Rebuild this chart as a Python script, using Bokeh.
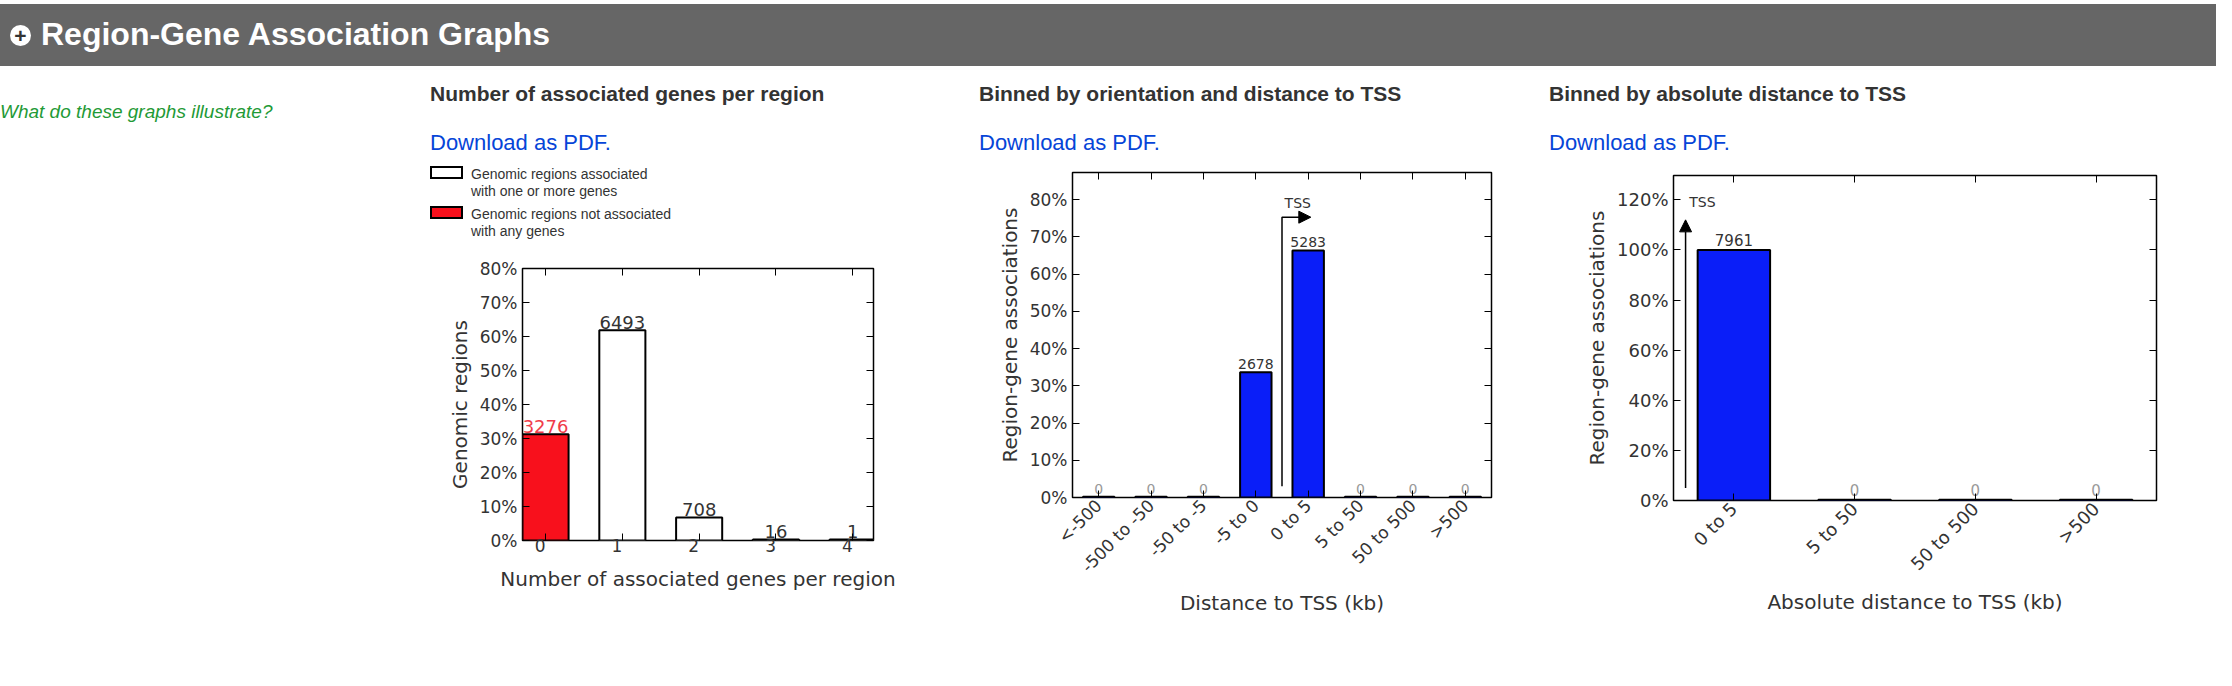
from bokeh.layouts import row, column
from bokeh.models import Div, LinearAxis, FixedTicker, NumeralTickFormatter, Range1d, Arrow, NormalHead
from bokeh.plotting import figure
from bokeh.core.properties import value
from bokeh.embed import file_html
from bokeh.resources import INLINE
import math

# chart 1: number of associated genes per region
genes_cats = ["0", "1", "2", "3", "4"]
genes_counts = [3276, 6493, 708, 16, 1]
# chart 2: binned by orientation and distance to TSS
orient_cats = ["<-500", "-500 to -50", "-50 to -5", "-5 to 0", "0 to 5", "5 to 50", "50 to 500", ">500"]
orient_counts = [0, 0, 0, 2678, 5283, 0, 0, 0]
# chart 3: binned by absolute distance to TSS
abs_cats = ["0 to 5", "5 to 50", "50 to 500", ">500"]
abs_counts = [7961, 0, 0, 0]

FONT = "DejaVu Sans"


def base_fig(w, h, bl, br, bt, bb, fw, fh, xr, yr, ymax_tick, ystep, cats, ylabel, xlabel, tick_size, rot):
    p = figure(width=w, height=h, frame_width=fw, frame_height=fh,
               x_range=Range1d(*xr), y_range=Range1d(*yr),
               output_backend="svg", toolbar_location=None,
               min_border_left=bl, min_border_right=br, min_border_top=bt, min_border_bottom=bb)
    p.xgrid.visible = False
    p.ygrid.visible = False
    p.outline_line_color = "black"
    p.outline_line_width = 1.5
    yt = [round(i * ystep, 4) for i in range(int(round(ymax_tick / ystep)) + 1)]
    xt = list(range(len(cats)))
    p.yaxis.ticker = FixedTicker(ticks=yt)
    p.yaxis.formatter = NumeralTickFormatter(format="0%")
    p.xaxis.ticker = FixedTicker(ticks=xt)
    p.xaxis.major_label_overrides = {i: c for i, c in enumerate(cats)}
    p.xaxis.major_label_orientation = rot
    for ax in (p.xaxis[0], p.yaxis[0]):
        ax.axis_line_color = None
        ax.major_tick_in = 7
        ax.major_tick_out = 0
        ax.minor_tick_line_color = None
        ax.major_label_text_font = FONT
        ax.major_label_text_font_size = tick_size
        ax.major_label_text_color = "#333333"
        ax.axis_label_text_font = FONT
        ax.axis_label_text_font_style = "normal"
        ax.axis_label_text_font_size = "20px"
        ax.axis_label_text_color = "#333333"
    p.yaxis.axis_label = ylabel
    p.xaxis.axis_label = xlabel
    right = LinearAxis(ticker=FixedTicker(ticks=yt), major_label_text_color=None,
                       axis_line_color=None, major_tick_in=7, major_tick_out=0,
                       minor_tick_line_color=None)
    p.add_layout(right, "right")
    top = LinearAxis(ticker=FixedTicker(ticks=xt), major_label_text_color=None,
                     axis_line_color=None, major_tick_in=7, major_tick_out=0,
                     minor_tick_line_color=None)
    p.add_layout(top, "above")
    return p


def head_div(title, w, h):
    return Div(width=w, height=h, margin=0, text=(
        "<div style='font-family:Liberation Sans;font-weight:bold;font-size:21px;line-height:24px;color:#333;margin-top:16px'>%s</div>"
        "<div style='font-family:Liberation Sans;font-size:22px;line-height:26px;color:#0645d8;margin-top:24px'>Download as PDF.</div>" % title))


# ---- chart 1
tot1 = sum(genes_counts)
frac1 = [c / tot1 for c in genes_counts]
p1 = base_fig(549, 500, 92, 106, 12, 116, 351, 272, (-0.3, 4.27), (0, 0.8), 0.8, 0.1,
              genes_cats, "Genomic regions", "Number of associated genes per region", "17px", 0)
xs1 = list(range(len(genes_cats)))
p1.vbar(x=xs1[1:], top=[max(f, 0.003) for f in frac1[1:]], width=0.6, fill_color="white", line_color="black", line_width=2)
p1.vbar(x=xs1[:1], top=frac1[:1], width=0.6, fill_color="#f8101c", line_color="black", line_width=2)
p1.text(x=xs1[1:], y=[max(f, 0.003) + 0.004 for f in frac1[1:]], text=[str(c) for c in genes_counts[1:]],
        text_font=value(FONT), text_font_size="18px", text_align="center", text_baseline="bottom", text_color="#333")
p1.text(x=xs1[:1], y=[frac1[0] + 0.004], text=[str(genes_counts[0])],
        text_font=value(FONT), text_font_size="18px", text_align="center", text_baseline="bottom", text_color="#f03c4a")
p1.xaxis[0].major_label_text_font_size = "18px"

legend_html = (
    "<div style='font-family:Liberation Sans;font-size:14px;color:#333;line-height:17px;margin-top:10px'>"
    "<div style='display:flex;align-items:flex-start'><span style='display:inline-block;width:33px;height:13px;border:2px solid black;background:white;margin-right:8px'></span>"
    "<span>Genomic regions associated<br>with one or more genes</span></div>"
    "<div style='display:flex;align-items:flex-start;margin-top:6px'><span style='display:inline-block;width:33px;height:13px;border:2px solid black;background:#f8101c;margin-right:8px'></span>"
    "<span>Genomic regions not associated<br>with any genes</span></div></div>")
col1 = column(head_div("Number of associated genes per region", 549, 90),
              Div(width=549, height=100, margin=0, text=legend_html), p1, spacing=0)

# ---- chart 2
tot2 = sum(orient_counts)
frac2 = [c / tot2 for c in orient_counts]
p2 = base_fig(570, 500, 93, 58, 16, 159, 419, 325, (-0.5, 7.5), (0, 0.873), 0.8, 0.1,
              orient_cats, "Region-gene associations", "Distance to TSS (kb)", "17px", math.pi / 4)
xs2 = list(range(len(orient_cats)))
p2.vbar(x=xs2, top=[max(f, 0.002) for f in frac2], width=0.6, fill_color="#0a1ef8", line_color="black", line_width=2)
p2.text(x=xs2, y=[max(f, 0.002) + 0.008 for f in frac2], text=[str(c) for c in orient_counts],
        text_font=value(FONT), text_font_size="14px", text_align="center", text_baseline="bottom",
        text_color=["#999" if c == 0 else "#333" for c in orient_counts])
p2.line(x=[3.5, 3.5, 3.85], y=[0.03, 0.753, 0.753], line_color="black", line_width=1.5)
p2.add_layout(Arrow(end=NormalHead(size=12, fill_color="black"), x_start=3.85, y_start=0.753, x_end=4.05, y_end=0.753, line_width=1.5))
p2.text(x=[3.55], y=[0.77], text=["TSS"], text_font=value(FONT), text_font_size="14px", text_baseline="bottom", text_color="#333")
col2 = column(head_div("Binned by orientation and distance to TSS", 570, 90), p2, spacing=0)

# ---- chart 3
tot3 = sum(abs_counts)
frac3 = [c / tot3 for c in abs_counts]
p3 = base_fig(667, 500, 124, 60, 19, 156, 483, 325, (-0.5, 3.5), (0, 1.297), 1.2, 0.2,
              abs_cats, "Region-gene associations", "Absolute distance to TSS (kb)", "18px", math.pi / 4)
xs3 = list(range(len(abs_cats)))
p3.vbar(x=xs3, top=[max(f, 0.003) for f in frac3], width=0.6, fill_color="#0a1ef8", line_color="black", line_width=2)
p3.text(x=xs3, y=[max(f, 0.003) + 0.015 for f in frac3], text=[str(c) for c in abs_counts],
        text_font=value(FONT), text_font_size="15px", text_align="center", text_baseline="bottom",
        text_color=["#999" if c == 0 else "#333" for c in abs_counts])
p3.add_layout(Arrow(end=NormalHead(size=12, fill_color="black"), x_start=-0.4, y_start=0.05, x_end=-0.4, y_end=1.12, line_width=1.5))
p3.text(x=[-0.37], y=[1.16], text=["TSS"], text_font=value(FONT), text_font_size="14px", text_baseline="bottom", text_color="#333")
col3 = column(head_div("Binned by absolute distance to TSS", 667, 90), p3, spacing=0)

header = Div(width=2216, height=66, margin=0, text=(
    "<div style='width:2216px;height:62px;margin-top:4px;background:#666666;display:flex;align-items:center'>"
    "<span style='display:inline-block;width:21px;height:21px;border-radius:11px;background:white;color:#333;"
    "font:bold 21px Liberation Sans;line-height:21px;text-align:center;margin-left:10px;margin-right:10px'>+</span>"
    "<span style='font-family:Liberation Sans;font-weight:bold;font-size:32px;color:white'>Region-Gene Association Graphs</span></div>"))
left = Div(width=430, height=200, margin=0, text=(
    "<div style='font-family:Liberation Sans;font-style:italic;font-size:19px;color:#1f9a36;margin-top:32px'>"
    "What do these graphs illustrate?</div>"))

page = column(header, row(left, col1, col2, col3, spacing=0), spacing=0)
open("out.html", "w").write(file_html(page, INLINE))
